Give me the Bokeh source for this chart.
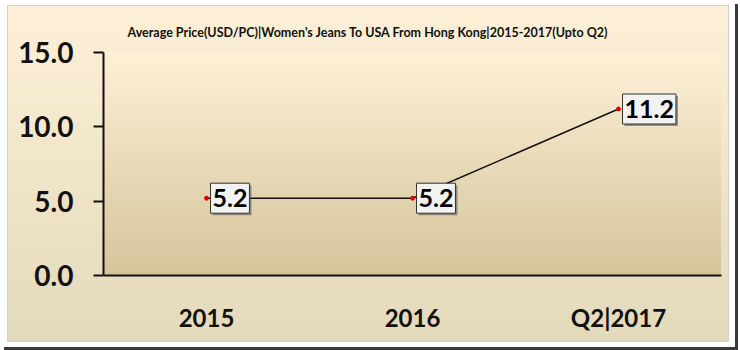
from bokeh.plotting import figure
from bokeh.models import (ColumnDataSource, FactorRange, Range1d,
                          FixedTicker, NumeralTickFormatter)
from bokeh.core.properties import value
from bokeh.embed import file_html
from bokeh.resources import INLINE

# ---- data ----
categories = ["2015", "2016", "Q2|2017"]
prices = [5.2, 5.2, 11.2]
y_ticks = [0, 5, 10, 15]
title_text = "Average Price(USD/PC)|Women's Jeans To USA From Hong Kong|2015-2017(Upto Q2)"

labels = [f"{v:.1f}" for v in prices]
src = ColumnDataSource(dict(x=categories, y=prices, label=labels))

p = figure(width=740, height=350,
           x_range=FactorRange(*categories), y_range=Range1d(0, 15),
           output_backend="svg", toolbar_location=None,
           min_border_left=103, min_border_right=19,
           min_border_top=52, min_border_bottom=75,
           title=title_text)

p.background_fill_alpha = 0
p.border_fill_alpha = 0
p.outline_line_color = None
p.xgrid.visible = False
p.ygrid.visible = False

p.styles = {
    "background": (
        "linear-gradient(#fdf0d6, #d4c59c) 103px 52px / 618px 223px no-repeat, "
        "linear-gradient(#fdf0d7, #e3d9bb) 8px 6px / 720px 335px no-repeat, "
        "linear-gradient(#d0d0d0, #d0d0d0) 7px 5px / 722px 337px no-repeat, "
        "linear-gradient(#ffffff, #ffffff) 0px 0px / 735px 347px no-repeat, "
        "linear-gradient(#3a3a3a, #3a3a3a) 4px 4px / 734px 346px no-repeat, "
        "#ffffff"
    )
}

# title
p.title.text_font = "Lato"
p.title.text_font_style = "bold"
p.title.text_font_size = "12.5px"
p.title.text_color = "#111111"
p.title.align = "left"
p.title.offset = 24
p.title.standoff = 26

# y axis
ya = p.yaxis[0]
ya.ticker = FixedTicker(ticks=y_ticks)
ya.formatter = NumeralTickFormatter(format="0.0")
ya.axis_line_width = 2
ya.axis_line_color = "#111111"
ya.major_tick_line_width = 2
ya.major_tick_line_color = "#111111"
ya.major_tick_out = 10
ya.major_tick_in = 0
ya.minor_tick_line_color = None
ya.major_label_standoff = 20
ya.major_label_text_font = "Lato"
ya.major_label_text_font_style = "bold"
ya.major_label_text_font_size = "28px"
ya.major_label_text_color = "#111111"

# x axis
xa = p.xaxis[0]
xa.axis_line_width = 2
xa.axis_line_color = "#111111"
xa.major_tick_line_color = None
xa.major_tick_out = 0
xa.major_tick_in = 0
xa.minor_tick_line_color = None
xa.major_label_standoff = 27
xa.major_label_text_font = "Lato"
xa.major_label_text_font_style = "bold"
xa.major_label_text_font_size = "24px"
xa.major_label_text_color = "#111111"

# data
p.line(x="x", y="y", source=src, line_color="#111111", line_width=1.5)
p.scatter(x="x", y="y", source=src, size=4, color="#e00000")

font = value("Lato")
p.text(x="x", y="y", text="label", source=src,
       x_offset=6, y_offset=2, text_align="left", text_baseline="middle",
       text_font=font, text_font_style="bold",
       text_font_size="25px", text_alpha=0,
       background_fill_color="#555555", background_fill_alpha=0.6,
       padding=(2, 6))
p.text(x="x", y="y", text="label", source=src,
       x_offset=4, y_offset=0, text_align="left", text_baseline="middle",
       text_font=font, text_font_style="bold",
       text_font_size="25px", text_color="#000000",
       background_fill_color="#f2f2f2", background_fill_alpha=1,
       border_line_color="#333333", border_line_width=1,
       padding=(2, 6))

open("out.html", "w").write(file_html(p, INLINE))
